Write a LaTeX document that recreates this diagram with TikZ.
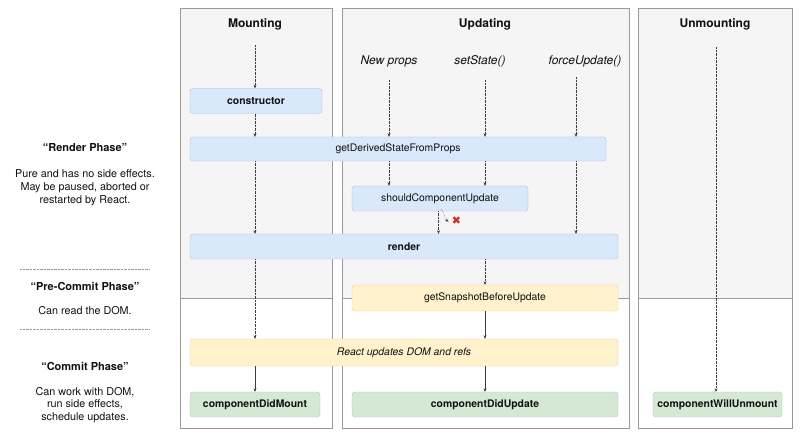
\documentclass[tikz,border=0pt]{standalone}
\usepackage{fontspec}
\setmainfont{TeX Gyre Heros}
\newfontfamily\symfont{DejaVu Sans}
\usetikzlibrary{arrows.meta}
\definecolor{panelfill}{HTML}{F5F5F5}
\definecolor{panelline}{HTML}{9A9A9A}
\definecolor{bluefill}{HTML}{DAE8FC}
\definecolor{blueline}{HTML}{A3BEE3}
\definecolor{yellowfill}{HTML}{FFF2CC}
\definecolor{yellowline}{HTML}{E3D39A}
\definecolor{greenfill}{HTML}{D5E8D4}
\definecolor{greenline}{HTML}{ABCBA9}
\definecolor{arrowcol}{HTML}{3C3C3C}
\definecolor{textcol}{HTML}{111111}
\definecolor{nored}{HTML}{D62728}

\begin{document}
\begin{tikzpicture}[x=1pt,y=-1pt,text=textcol,
	box/.style={rounded corners=3pt,minimum height=25pt,inner sep=0pt,font=\fontsize{10.4}{12}\selectfont},
	bluebox/.style={box,fill=bluefill,draw=blueline},
	yellowbox/.style={box,fill=yellowfill,draw=yellowline},
	greenbox/.style={box,fill=greenfill,draw=greenline},
	title/.style={font=\bfseries\fontsize{12}{14}\selectfont},
	trigger/.style={font=\itshape\fontsize{12}{14}\selectfont},
	phase/.style={font=\bfseries\fontsize{11}{13}\selectfont},
	phasetext/.style={align=center,font=\fontsize{10.8}{12.8}\selectfont},
	flowdot/.style={draw=arrowcol,densely dotted,-{Stealth[length=3.5pt,width=3pt]}},
	flow/.style={draw=arrowcol,-{Stealth[length=3.5pt,width=3pt]}}]
\useasboundingbox (0,0) rectangle (800,438);

\foreach \l/\r in {180/332,342/629,638/792}{
	\fill[panelfill] (\l,8) rectangle (\r,298);
	\draw[panelline] (\l,8) rectangle (\r,428);
	\draw[panelline] (\l,298) -- (\r,298);
}

\node[title] (mounting) at (255,24) {Mounting};
\node[title] (updating) at (485,24) {Updating};
\node[title] (unmounting) at (715,24) {Unmounting};

\node[trigger] (newprops) at (389,61) {New props};
\node[trigger] (setstate) at (480,61) {setState()};
\node[trigger] (forceupdate) at (585,61) {forceUpdate()};

\node[bluebox,minimum width=132pt] (ctor) at (256,101) {\bfseries constructor};
\node[bluebox,minimum width=416pt,minimum height=24pt] (gdsfp) at (398,149) {getDerivedStateFromProps};
\node[bluebox,minimum width=176pt] (scu) at (440,198.5) {shouldComponentUpdate};
\node[bluebox,minimum width=428pt] (render) at (404,246.5) {\bfseries render};
\node[yellowbox,minimum width=266pt,minimum height=26pt] (snapshot) at (485,298) {getSnapshotBeforeUpdate};
\node[yellowbox,minimum width=428pt,minimum height=27pt] (domrefs) at (404,352.5) {\itshape React updates DOM and refs};
\node[greenbox,minimum width=130pt] (didmount) at (255,404.5) {\bfseries componentDidMount};
\node[greenbox,minimum width=266pt] (didupdate) at (485,404.5) {\bfseries componentDidUpdate};
\node[greenbox,minimum width=129pt] (willunmount) at (717.5,404.5) {\bfseries componentWillUnmount};
\node[text=nored,font=\symfont\fontsize{11}{12}\selectfont,inner sep=0pt] (nox) at (456.5,220.5) {✖};

\coordinate (mountstart) at (255,45);
\coordinate (propsstart) at (389,80);
\coordinate (statestart) at (485,80);
\coordinate (forcestart) at (576,77);
\coordinate (unmountstart) at (716,47);

\draw[flowdot] (mountstart) -- (mountstart |- ctor.north);
\draw[flowdot] (ctor.south -| mountstart) -- (mountstart |- gdsfp.north);
\draw[flowdot] (gdsfp.south -| mountstart) -- (mountstart |- render.north);
\draw[flowdot] (render.south -| mountstart) -- (mountstart |- domrefs.north);
\draw[flow] (domrefs.south -| mountstart) -- (didmount.north -| mountstart);

\draw[flowdot] (propsstart) -- (propsstart |- gdsfp.north);
\draw[flowdot] (statestart) -- (statestart |- gdsfp.north);
\draw[flowdot] (forcestart) -- (forcestart |- gdsfp.north);
\draw[flowdot] (gdsfp.south -| propsstart) -- (propsstart |- scu.north);
\draw[flowdot] (gdsfp.south -| statestart) -- (statestart |- scu.north);
\draw[flowdot] (gdsfp.south -| forcestart) -- (forcestart |- render.north);
\draw[flowdot] ([xshift=-1.5pt]scu.south) -- ([xshift=-1.5pt]scu.south |- render.north);
\draw[flowdot] ([xshift=1pt,yshift=2pt]scu.south) to[out=-40,in=150] ([xshift=-3pt,yshift=-1pt]nox.west);
\draw[flowdot] (render.south -| snapshot) -- (snapshot.north);
\draw[flow] (snapshot.south) -- (snapshot.south |- domrefs.north);
\draw[flow] (domrefs.south -| didupdate) -- (didupdate.north);

\draw[flowdot] (unmountstart) -- (unmountstart |- willunmount.north);

\node[phase] (renderphase) at (85,148) {“Render Phase”};
\node[phasetext] (rendertext) at (85,187.5) {Pure and has no side effects.\\May be paused, aborted or\\restarted by React.};
\node[phase] (precommitphase) at (85,286) {“Pre-Commit Phase”};
\node[phasetext] (precommittext) at (85,311) {Can read the DOM.};
\node[phase] (commitphase) at (85,366) {“Commit Phase”};
\node[phasetext] (committext) at (85,405) {Can work with DOM,\\run side effects,\\schedule updates.};

\draw[panelline,densely dotted] (20,269) -- (150,269);
\draw[panelline,densely dotted] (20,329) -- (150,329);
\end{tikzpicture}
\end{document}
